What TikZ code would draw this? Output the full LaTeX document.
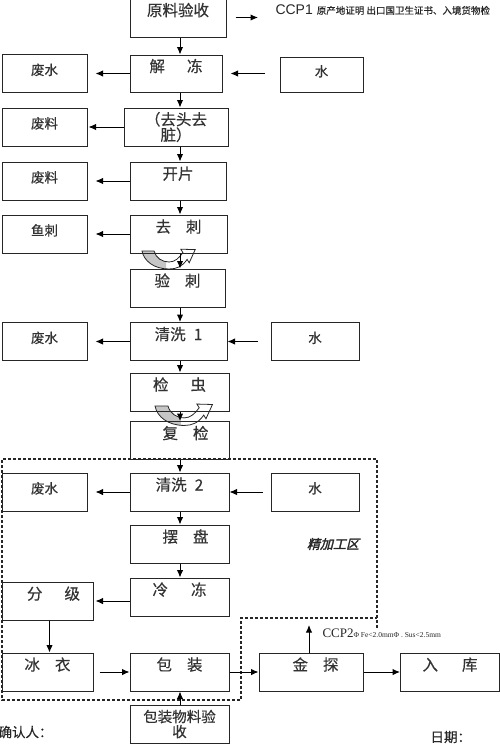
\documentclass[tikz,border=0pt]{standalone}
\usepackage{fontspec}
\usetikzlibrary{arrows.meta}
\setmainfont{Liberation Serif}
\setsansfont{Liberation Sans}
\newfontfamily\cjk{Noto Sans CJK SC}[FakeBold=0.4]
\newfontfamily\cjkslant{Noto Sans CJK SC}[FakeSlant=0.25,FakeBold=2]
\tikzset{stage/.style={draw=black!85, minimum width=99pt, minimum height=38pt, inner sep=0pt, text=black!80, font=\cjk\fontsize{15.5}{15.5}\selectfont, text height=10pt, text depth=13pt},
  side/.style={draw=black!85, minimum width=85pt, minimum height=38pt, inner sep=0pt, text=black!80, font=\cjk\fontsize{13.5}{15}\selectfont, text height=10pt, text depth=7pt},
  arr/.style={-{Latex[length=7.5pt,width=6.5pt]}, draw=black},
  zone/.style={draw=black!85, dash pattern=on 3pt off 2pt, line width=1.1pt},
  note/.style={inner sep=0pt, text=black!85}}
\def\uturnpath{(0,0) -- (12,0) .. controls (14,7) and (20,11) .. (27,11) .. controls (33,11) and (37,7) .. (40.9,1.6) -- (38.8,-1.8) -- (53.2,-1.4) -- (47.2,11.8) -- (45.1,8.4) .. controls (40,16) and (34,18) .. (27,18) .. controls (12,18) and (2,10) .. cycle}
\newcommand\uturn[2][]{%
  \begin{scope}[shift={#2}, line width=0.8pt, #1]
    \fill[white] \uturnpath;
    \begin{scope}
      \clip (-2,-6) rectangle (24,22);
      \fill[gray!45] \uturnpath;
    \end{scope}
    \draw[black!85] \uturnpath;
  \end{scope}}

\begin{document}
\begin{tikzpicture}[x=1pt,y=-1pt,line width=1pt]
  \useasboundingbox (0,0) rectangle (500,744);
  % turning arrows under the boxes
  \uturn{(142,251)}
  \uturn[scale=1.08]{(155,406)}
  \coordinate (spine) at (180,0);
  % main line
  \node[stage, minimum width=96pt, minimum height=39pt] (ylys) at (178,17.5) {原料验收};
  \node[stage, minimum width=92pt, minimum height=37pt] (jd) at (176,73.5) {解\hspace{22pt}冻};
  \node[stage, minimum width=104pt, text height={}, text depth={}, align=center] (qt) at (176,127) {（去头去\\脏）};
  \node[stage, minimum width=96pt] (kp) at (178,181) {开片};
  \node[stage, minimum width=97pt] (qc) at (178.5,234) {去\hspace{15pt}刺};
  \node[stage, minimum width=95pt] (yc) at (177.5,288) {验\hspace{15pt}刺};
  \node[stage, minimum width=97pt] (qx1) at (178.5,341.5) {清洗\hspace{8pt}1};
  \node[stage] (jc) at (179.5,392) {检\hspace{22pt}虫};
  \node[stage] (fj) at (179.5,440.5) {\hspace{12pt}复\hspace{15pt}检};
  \node[stage] (qx2) at (179.5,492) {清洗\hspace{8pt}2};
  \node[stage] (bp) at (179.5,544) {\hspace{12pt}摆\hspace{15pt}盘};
  \node[stage] (ld) at (179.5,597) {冷\hspace{23pt}冻};
  \node[stage, minimum width=91pt] (fenji) at (47.5,601) {\hspace{12pt}分\hspace{22pt}级};
  \node[stage, minimum width=91pt] (bingyi) at (47.5,672) {冰\hspace{15pt}衣};
  \node[stage] (bz) at (179.5,672) {包\hspace{15pt}装};
  \node[stage, minimum width=104pt] (jt) at (311,672) {\hspace{9pt}金\hspace{15pt}探};
  \node[stage] (rk) at (450,672) {入\hspace{24pt}库};
  \node[stage, text height={}, text depth={}, align=center, font=\cjk\fontsize{14.5}{15}\selectfont] (bzwl) at (179.5,724) {包装物料验\\收};
  % side boxes
  \node[side] (fs1) at (44.5,73.5) {废水};
  \node[side, minimum width=83pt, minimum height=35pt] (s1) at (321.5,75) {水};
  \node[side] (fl1) at (44.5,127) {废料};
  \node[side] (fl2) at (44.5,181) {废料};
  \node[side] (yuci) at (44.5,234) {鱼刺};
  \node[side] (fs2) at (44.5,341.5) {废水};
  \node[side, minimum width=88pt] (s2) at (315,341.5) {水};
  \node[side] (fs3) at (44.5,492) {废水};
  \node[side, minimum width=88pt] (s3) at (315,492) {水};
  % notes
  \node[note, anchor=base west] (ccp1) at (275,14) {\sffamily\fontsize{14}{16}\selectfont CCP1\hspace{4pt}\cjk\fontsize{9.5}{11}\selectfont 原产地证明 出口国卫生证书、入境货物检};
  \node[note, anchor=base west] (ccp2) at (322,637) {\fontsize{13}{15}\selectfont CCP2\fontsize{7.5}{9}\selectfont Φ Fe<2.0mmΦ . Sus<2.5mm};
  \coordinate (ccp2tip) at (309,625);
  \node[note, font=\cjkslant\fontsize{13}{15}\selectfont] (jjgq) at (333,544) {精加工区};
  \node[note, anchor=west, font=\cjk\fontsize{13.5}{15}\selectfont] (qrr) at (-2,732) {确认人：};
  \node[note, anchor=west, font=\cjk\fontsize{13.5}{15}\selectfont] (rq) at (430,737) {日期：};
  % zone
  \draw[zone] (377,628) -- (377,459) -- (2,459) -- (2,700) -- (241,700) -- (241,618) -- (377,618);
  % connectors
  \draw[arr] (ylys.south -| spine) -- (jd.north -| spine);
  \draw[arr, shorten <=9pt, shorten >=17pt] (ylys.east) -- (ylys.east -| ccp1.west);
  \draw[arr, shorten >=8pt] (jd.west) -- (fs1.east);
  \draw[arr, shorten <=15pt, shorten >=8pt] (jd.east -| s1.west) -- (jd.east);
  \draw[arr] (jd.south -| spine) -- (qt.north -| spine);
  \draw[arr, shorten >=1pt] (qt.west) -- (fl1.east);
  \draw[arr] (qt.south -| spine) -- (kp.north -| spine);
  \draw[arr, shorten >=8pt] (kp.west) -- (fl2.east);
  \draw[arr] (kp.south -| spine) -- (qc.north -| spine);
  \draw[arr, shorten >=8pt] (qc.west) -- (yuci.east);
  \draw[arr] (qc.south -| spine) -- (yc.north -| spine);
  \draw[arr] (yc.south -| spine) -- (qx1.north -| spine);
  \draw[arr, shorten >=8pt] (qx1.west) -- (fs2.east);
  \draw[arr, shorten <=13pt] (qx1.east -| s2.west) -- (qx1.east);
  \draw[arr] (qx1.south -| spine) -- (jc.north -| spine);
  \draw[arr] (jc.south -| spine) -- (fj.north -| spine);
  \draw[arr] (fj.south -| spine) -- (qx2.north -| spine);
  \draw[arr, shorten >=8pt] (qx2.west) -- (fs3.east);
  \draw[arr, shorten <=8pt] (qx2.east -| s3.west) -- (qx2.east);
  \draw[arr] (qx2.south -| spine) -- (bp.north -| spine);
  \draw[arr] (bp.south -| spine) -- (ld.north -| spine);
  \draw[arr, shorten >=2pt] (fenji.east -| ld.west) -- (fenji.east);
  \draw[arr] ([xshift=2pt]fenji.south) -- ([xshift=2pt]bingyi.north);
  \draw[arr, shorten <=6pt] (bingyi.east) -- (bz.west);
  \draw[arr] (bz.east) -- (jt.west);
  \draw[arr] (jt.east) -- (rk.west);
  \draw[arr] (jt.north -| ccp2tip) -- (ccp2tip);
  \draw[arr] (bzwl.north -| spine) -- (bz.south -| spine);
\end{tikzpicture}
\end{document}
